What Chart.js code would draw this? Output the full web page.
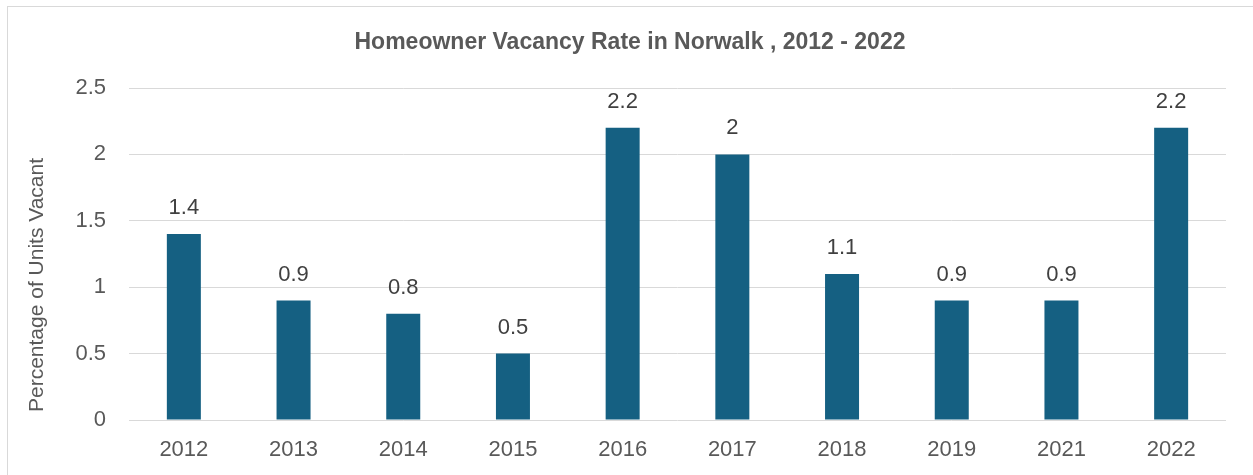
<!DOCTYPE html>
<html>
<head>
<meta charset="utf-8">
<script src="https://cdn.jsdelivr.net/npm/chart.js@4"></script>
<style>
  html, body { margin: 0; padding: 0; background: #fff; }
  #wrap { position: relative; width: 1253px; height: 475px; overflow: hidden; }
  #frame { position: absolute; left: 7px; top: 6px; width: 1300px; height: 520px;
           border: 1px solid #d9d9d9; box-sizing: border-box; }
  #vacancyChart { position: absolute; left: 0; top: 0; }
</style>
</head>
<body>
<div id="wrap">
  <div id="frame"></div>
  <canvas id="vacancyChart" width="1253" height="475"></canvas>
</div>
<script>
// Chart data
const years = ['2012', '2013', '2014', '2015', '2016', '2017', '2018', '2019', '2021', '2022'];
const vacancyRates = [1.4, 0.9, 0.8, 0.5, 2.2, 2, 1.1, 0.9, 0.9, 2.2];
const yTicks = [0, 0.5, 1, 1.5, 2, 2.5];

const chartTitle = 'Homeowner Vacancy Rate in Norwalk , 2012 - 2022';
const yAxisTitle = 'Percentage of Units Vacant';
const FONT = '"Liberation Sans", Arial, sans-serif';

// draws the value above each bar plus the title texts
const labelsPlugin = {
    id: 'valueLabels',
    afterDatasetsDraw(chart) {
        const ctx = chart.ctx;
        const meta = chart.getDatasetMeta(0);
        ctx.save();
        ctx.font = '22px ' + FONT;
        ctx.fillStyle = '#404040';
        ctx.textAlign = 'center';
        ctx.textBaseline = 'middle';
        meta.data.forEach((bar, i) => {
            ctx.fillText(String(vacancyRates[i]), bar.x, bar.y - 26);
        });

        ctx.font = 'bold 23px ' + FONT;
        ctx.fillStyle = '#595959';
        ctx.fillText(chartTitle, 630, 43);

        ctx.font = '21px ' + FONT;
        ctx.translate(37, 285);
        ctx.rotate(-Math.PI / 2);
        ctx.fillText(yAxisTitle, 0, 0);
        ctx.restore();
    }
};

function createVacancyChart() {
    const ctx = document.getElementById('vacancyChart');
    if (!ctx) return;

    new Chart(ctx, {
        type: 'bar',
        data: {
            labels: years,
            datasets: [{
                label: 'Homeowner Vacancy Rate',
                data: vacancyRates,
                backgroundColor: '#156082',
                categoryPercentage: 1,
                barPercentage: 0.31
            }]
        },
        options: {
            responsive: false,
            animation: false,
            layout: { padding: { left: 0, right: 27, top: 88, bottom: 0 } },
            plugins: {
                legend: { display: false },
                title: { display: false },
                tooltip: { enabled: false }
            },
            scales: {
                x: {
                    grid: { display: false },
                    border: { display: false },
                    ticks: { color: '#595959', font: { family: FONT, size: 22 }, padding: 9 },
                    afterFit(scale) { scale.height = 55; }
                },
                y: {
                    min: 0,
                    max: 2.5,
                    afterBuildTicks(scale) { scale.ticks = yTicks.map(v => ({ value: v })); },
                    grid: { color: '#d9d9d9', lineWidth: 1, drawTicks: false },
                    border: { display: false },
                    ticks: {
                        color: '#595959',
                        font: { family: FONT, size: 22 },
                        padding: 23,
                        callback: (v) => String(v)
                    },
                    afterFit(scale) { scale.width = 129; }
                }
            }
        },
        plugins: [labelsPlugin]
    });
}

document.addEventListener('DOMContentLoaded', createVacancyChart);
</script>
</body>
</html>
